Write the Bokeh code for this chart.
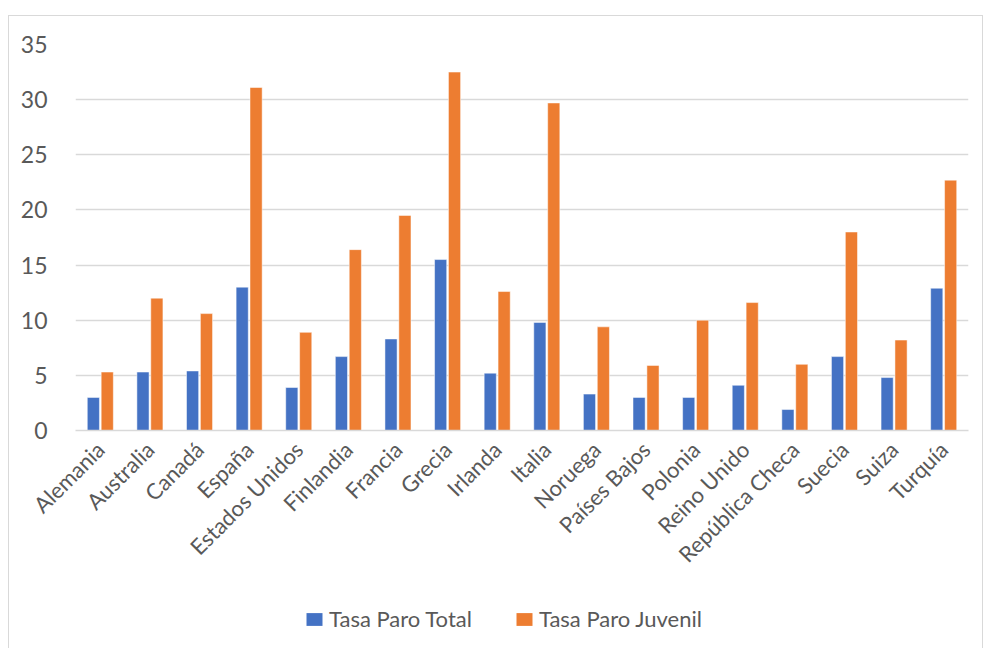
from math import pi
from bokeh.plotting import figure
from bokeh.layouts import column
from bokeh.models import ColumnDataSource, Legend, LegendItem, FactorRange, SingleIntervalTicker
from bokeh.transform import dodge
from bokeh.embed import file_html
from bokeh.resources import INLINE

paises = ["Alemania", "Australia", "Canadá", "España", "Estados Unidos", "Finlandia",
          "Francia", "Grecia", "Irlanda", "Italia", "Noruega", "Países Bajos", "Polonia",
          "Reino Unido", "República Checa", "Suecia", "Suiza", "Turquía"]
paro_total = [3.0, 5.3, 5.4, 13.0, 3.9, 6.7, 8.3, 15.5, 5.2, 9.8, 3.3, 3.0, 3.0, 4.1, 1.9, 6.7, 4.8, 12.9]
paro_juvenil = [5.3, 12.0, 10.6, 31.1, 8.9, 16.4, 19.5, 32.5, 12.6, 29.7, 9.4, 5.9, 10.0, 11.6, 6.0, 18.0, 8.2, 22.7]
series = ["Tasa Paro Total", "Tasa Paro Juvenil"]
colores = ["#4472C4", "#ED7D31"]

FONT = "Lato"
TXT = "#595959"
BORDER = "1px solid #d9d9d9"

src = ColumnDataSource(dict(pais=paises, total=paro_total, juvenil=paro_juvenil))

p = figure(x_range=FactorRange(*paises, range_padding=0), y_range=(0, 35),
           width=973, height=580, output_backend="svg", toolbar_location=None,
           min_border_left=66, min_border_right=14, min_border_top=28, min_border_bottom=166)

r1 = p.vbar(x=dodge("pais", -0.14, range=p.x_range), top="total", width=0.245, source=src,
            fill_color=colores[0], line_color="white", line_width=0.5)
r2 = p.vbar(x=dodge("pais", 0.14, range=p.x_range), top="juvenil", width=0.245, source=src,
            fill_color=colores[1], line_color="white", line_width=0.5)

p.outline_line_color = None
p.background_fill_color = "white"
p.border_fill_color = "white"

p.xgrid.grid_line_color = None
p.ygrid.grid_line_color = "#d9d9d9"
p.ygrid.grid_line_width = 1.5
p.yaxis.ticker = SingleIntervalTicker(interval=5)

p.yaxis.axis_line_color = None
p.yaxis.major_tick_line_color = None
p.yaxis.minor_tick_line_color = None
p.yaxis.major_label_text_font = FONT
p.yaxis.major_label_text_font_size = "23px"
p.yaxis.major_label_text_color = TXT
p.yaxis.major_label_standoff = 22

p.xaxis.axis_line_color = "#d9d9d9"
p.xaxis.axis_line_width = 1.5
p.xaxis.major_tick_line_color = None
p.xaxis.minor_tick_line_color = None
p.xaxis.major_label_orientation = pi / 4
p.xaxis.major_label_text_font = FONT
p.xaxis.major_label_text_font_size = "22px"
p.xaxis.major_label_text_color = TXT
p.xaxis.major_label_standoff = 9

# legend strip below the chart
lg = figure(width=973, height=52, output_backend="svg", toolbar_location=None,
            x_axis_type=None, y_axis_type=None, x_range=(0, 1), y_range=(0, 1),
            min_border_left=0, min_border_right=0, min_border_top=0, min_border_bottom=0)
lg.outline_line_color = None
lg.xgrid.grid_line_color = None
lg.ygrid.grid_line_color = None
lg.border_fill_color = "white"
lg.background_fill_color = "white"
# legend keys only: zero-height bars, so nothing but the legend swatches shows
key_src = ColumnDataSource(dict(x=[0.5], top=[0.0]))
k1 = lg.vbar(x="x", top="top", width=0.01, source=key_src, fill_color=colores[0], line_color=None)
k2 = lg.vbar(x="x", top="top", width=0.01, source=key_src, fill_color=colores[1], line_color=None)

legend = Legend(items=[LegendItem(label=series[0], renderers=[k1]),
                       LegendItem(label=series[1], renderers=[k2])],
                orientation="horizontal", location=(229, 16),
                label_text_font=FONT, label_text_font_size="22px", label_text_color=TXT,
                glyph_width=20, glyph_height=16, label_standoff=5, spacing=42,
                border_line_color=None, margin=0, padding=0, background_fill_alpha=0)
lg.add_layout(legend, "center")

layout = column(p, lg, spacing=0)
layout.margin = (15, 0, 0, 8)
layout.styles = {"border-top": BORDER, "border-left": BORDER, "border-right": BORDER}

open("out.html", "w").write(file_html(layout, INLINE))
